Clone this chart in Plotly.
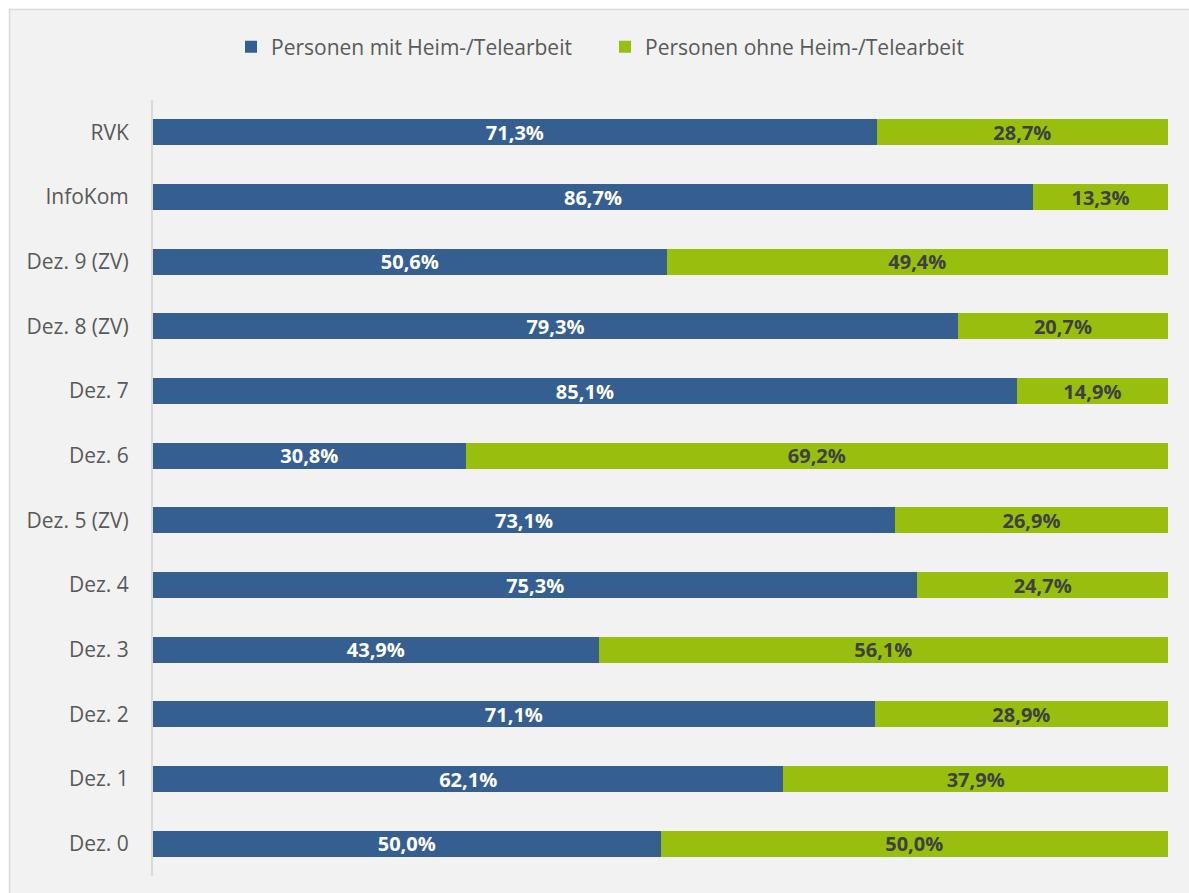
import plotly.graph_objects as go

categories = ["RVK", "InfoKom", "Dez. 9 (ZV)", "Dez. 8 (ZV)", "Dez. 7", "Dez. 6",
              "Dez. 5 (ZV)", "Dez. 4", "Dez. 3", "Dez. 2", "Dez. 1", "Dez. 0"]
mit = [71.3, 86.7, 50.6, 79.3, 85.1, 30.8, 73.1, 75.3, 43.9, 71.1, 62.1, 50.0]
ohne = [28.7, 13.3, 49.4, 20.7, 14.9, 69.2, 26.9, 24.7, 56.1, 28.9, 37.9, 50.0]
series_names = ["Personen mit Heim-/Telearbeit", "Personen ohne Heim-/Telearbeit"]

BLUE = "#365F91"
GREEN = "#99BF0E"
FONT = "Open Sans"

W, H = 1189, 893
L, R, T, B = 153, 21, 100, 17
pw, ph = W - L - R, H - T - B

def px_x(p):
    return (p - L) / pw

def px_y(p):
    return (H - B - p) / ph

fig = go.Figure()
fig.add_trace(go.Bar(
    y=categories, x=mit, orientation="h", name=series_names[0],
    marker=dict(color=BLUE, line=dict(width=0)),
    texttemplate="%{x:.1f}%", textposition="inside", insidetextanchor="middle",
    textfont=dict(family=FONT, size=20, color="white", weight="bold"),
    constraintext="none",
))
fig.add_trace(go.Bar(
    y=categories, x=ohne, orientation="h", name=series_names[1],
    marker=dict(color=GREEN, line=dict(width=0)),
    texttemplate="%{x:.1f}%", textposition="inside", insidetextanchor="middle",
    textfont=dict(family=FONT, size=20, color="#404040", weight="bold"),
    constraintext="none",
))

shapes = [
    dict(type="rect", xref="paper", yref="paper", x0=px_x(0), x1=px_x(W), y0=px_y(9), y1=px_y(0),
         fillcolor="white", line=dict(width=0), layer="below"),
    dict(type="rect", xref="paper", yref="paper", x0=px_x(0), x1=px_x(9), y0=px_y(H), y1=px_y(0),
         fillcolor="white", line=dict(width=0), layer="below"),
    dict(type="line", xref="paper", yref="paper", x0=px_x(9), x1=px_x(W), y0=px_y(9.5), y1=px_y(9.5),
         line=dict(color="#D9D9D9", width=1.5), layer="below"),
    dict(type="line", xref="paper", yref="paper", x0=px_x(9.5), x1=px_x(9.5), y0=px_y(H), y1=px_y(9),
         line=dict(color="#D9D9D9", width=1.5), layer="below"),
]

fig.update_layout(
    width=W, height=H,
    margin=dict(l=L, r=R, t=T, b=B, pad=0),
    barmode="stack",
    bargap=0.6,
    separators=",.",
    paper_bgcolor="#F2F2F2",
    plot_bgcolor="#F2F2F2",
    font=dict(family=FONT, size=21, color="#595959"),
    showlegend=True,
    legend=dict(orientation="h", x=231 / W, xanchor="left", xref="container",
                y=1 - 47 / H, yref="container", yanchor="middle",
                font=dict(family=FONT, size=21, color="#595959"),
                itemwidth=30, entrywidth=329, traceorder="normal",
                bgcolor="rgba(0,0,0,0)"),
    xaxis=dict(range=[0, 100], visible=False, fixedrange=True),
    yaxis=dict(categoryorder="array", categoryarray=categories, autorange="reversed",
               showline=True, linecolor="#D9D9D9", linewidth=2, showgrid=False,
               zeroline=False, ticks="", ticklabelstandoff=18,
               tickfont=dict(family=FONT, size=21, color="#595959")),
    shapes=shapes,
)

fig.write_html("out.html")
